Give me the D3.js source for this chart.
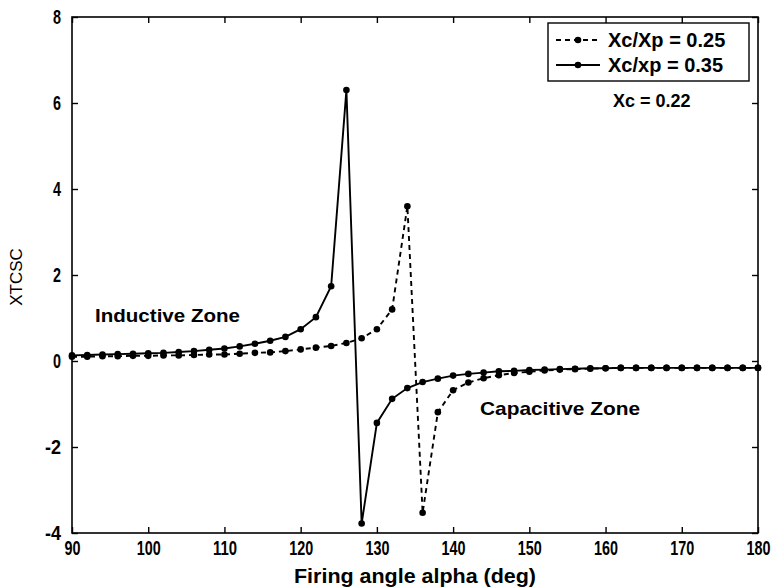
<!DOCTYPE html>
<html>
<head>
<meta charset="utf-8">
<script src="https://cdn.jsdelivr.net/npm/d3@7"></script>
<style>
  body { margin: 0; background: #fff; }
  text { font-family: "Liberation Sans", Arial, sans-serif; font-weight: bold; fill: #000; }
</style>
</head>
<body>
<div id="chart"></div>
<script>
// firing angle (deg), every 2 deg
const alpha = d3.range(90, 181, 2);

// Xc/Xp = 0.25 (dashed)
const xtcsc025 = [0.10, 0.10, 0.11, 0.11, 0.12, 0.12, 0.13, 0.13, 0.14, 0.15, 0.15, 0.17, 0.19, 0.20, 0.23,
    0.27, 0.31, 0.35, 0.42, 0.53, 0.74, 1.20, 3.60, -3.53, -1.19, -0.68, -0.50, -0.40, -0.33, -0.28,
    -0.25, -0.22, -0.20, -0.19, -0.18, -0.17, -0.16, -0.16, -0.16, -0.16, -0.16, -0.16, -0.16, -0.16, -0.16, -0.16];

// Xc/xp = 0.35 (solid)
const xtcsc035 = [0.13, 0.14, 0.15, 0.16, 0.17, 0.18, 0.19, 0.21, 0.23, 0.26, 0.29, 0.34, 0.40, 0.47, 0.56,
    0.74, 1.02, 1.74, 6.30, -3.78, -1.44, -0.88, -0.63, -0.49, -0.41, -0.34, -0.30, -0.27, -0.24, -0.23,
    -0.21, -0.20, -0.19, -0.18, -0.17, -0.17, -0.16, -0.16, -0.16, -0.16, -0.16, -0.16, -0.16, -0.16, -0.16, -0.16];

const xTicks = d3.range(90, 181, 10);
const yTicks = [-4, -2, 0, 2, 4, 6, 8];

const margin = {top: 17, right: 21, bottom: 54, left: 72},
    width = 779 - margin.left - margin.right,
    height = 587 - margin.top - margin.bottom;

const svg = d3.select("#chart")
    .append("svg")
    .attr("width", 779)
    .attr("height", 587);

const plot = svg.append("g")
    .attr("transform", `translate(${margin.left},${margin.top})`);

let x = d3.scaleLinear().domain([90, 180]).range([0, width]);
let y = d3.scaleLinear().domain([-4, 8]).range([height, 0]);

// box
plot.append("rect")
    .attr("width", width)
    .attr("height", height)
    .style("fill", "none")
    .style("stroke", "#000")
    .style("stroke-width", 1.6);

// axes, ticks pointing inward like matlab; labels squeezed (narrow font look)
function styleAxis(g) {
    g.select(".domain").remove();
    g.selectAll(".tick line").style("stroke", "#000").style("stroke-width", 1.4);
    g.selectAll(".tick text")
        .style("font-size", "20px")
        .attr("lengthAdjust", "spacingAndGlyphs")
        .attr("textLength", function () {
            let s = this.textContent;
            return s.length ? s.length * 8 : null;
        });
}

const plainFormat = function (d) { return String(d); };

plot.append("g")
    .attr("class", "x axis")
    .attr("transform", "translate(0," + height + ")")
    .call(d3.axisBottom(x).tickValues(xTicks).tickSizeInner(-6).tickPadding(8).tickFormat(plainFormat))
    .call(styleAxis);

plot.append("g")
    .attr("class", "x axis top")
    .call(d3.axisTop(x).tickValues(xTicks).tickSizeInner(-6).tickFormat(""))
    .call(styleAxis);

plot.append("g")
    .attr("class", "y axis left")
    .call(d3.axisLeft(y).tickValues(yTicks).tickSizeInner(-6).tickPadding(11).tickFormat(plainFormat))
    .call(styleAxis);

plot.append("g")
    .attr("class", "y axis right")
    .attr("transform", "translate(" + width + ",0)")
    .call(d3.axisRight(y).tickValues(yTicks).tickSizeInner(-6).tickFormat(""))
    .call(styleAxis);

// series
function setPlotLine(data, dash) {
    let pts = alpha.map(function (a, i) { return {x: a, y: data[i]}; });
    plot.append("path")
        .datum(pts)
        .style("fill", "none")
        .style("stroke", "#000")
        .style("stroke-width", 1.9)
        .style("stroke-dasharray", dash)
        .attr("d", d3.line()
            .x(function (d) { return x(d.x); })
            .y(function (d) { return y(d.y); }));
    plot.append("g").selectAll("circle")
        .data(pts)
        .enter().append("circle")
        .attr("cx", function (d) { return x(d.x); })
        .attr("cy", function (d) { return y(d.y); })
        .attr("r", 3.3)
        .style("fill", "#000");
}

setPlotLine(xtcsc025, "5,4");
setPlotLine(xtcsc035, null);

// legend
const legend = plot.append("g").attr("transform", "translate(476,6)");
legend.append("rect")
    .attr("width", 201)
    .attr("height", 58)
    .style("fill", "#fff")
    .style("stroke", "#000")
    .style("stroke-width", 1.4);

const legendItems = [{label: "Xc/Xp = 0.25", dash: "5,4"}, {label: "Xc/xp = 0.35", dash: null}];
legendItems.forEach(function (d, i) {
    let yy = 17 + i * 25;
    legend.append("line")
        .attr("x1", 8).attr("x2", 52)
        .attr("y1", yy).attr("y2", yy)
        .style("stroke", "#000")
        .style("stroke-width", 1.9)
        .style("stroke-dasharray", d.dash);
    legend.append("circle")
        .attr("cx", 30).attr("cy", yy).attr("r", 3.3)
        .style("fill", "#000");
    legend.append("text")
        .attr("x", 60).attr("y", yy + 7)
        .attr("font-size", 20)
        .text(d.label);
});

// annotations
plot.append("text")
    .attr("x", 541).attr("y", 90)
    .attr("font-size", 18)
    .text("Xc = 0.22");

plot.append("text")
    .attr("x", 23).attr("y", 305)
    .attr("font-size", 19)
    .attr("textLength", 145)
    .attr("lengthAdjust", "spacingAndGlyphs")
    .text("Inductive Zone");

plot.append("text")
    .attr("x", 408).attr("y", 398)
    .attr("font-size", 19)
    .attr("textLength", 160)
    .attr("lengthAdjust", "spacingAndGlyphs")
    .text("Capacitive Zone");

// axis labels
svg.append("text")
    .attr("text-anchor", "middle")
    .attr("x", margin.left + width / 2)
    .attr("y", 583)
    .attr("font-size", 20)
    .attr("textLength", 242)
    .attr("lengthAdjust", "spacingAndGlyphs")
    .text("Firing angle alpha (deg)");

svg.append("text")
    .attr("text-anchor", "middle")
    .attr("transform", "translate(22,277) rotate(-90)")
    .attr("font-size", 17)
    .style("font-weight", "normal")
    .text("XTCSC");
</script>
</body>
</html>
